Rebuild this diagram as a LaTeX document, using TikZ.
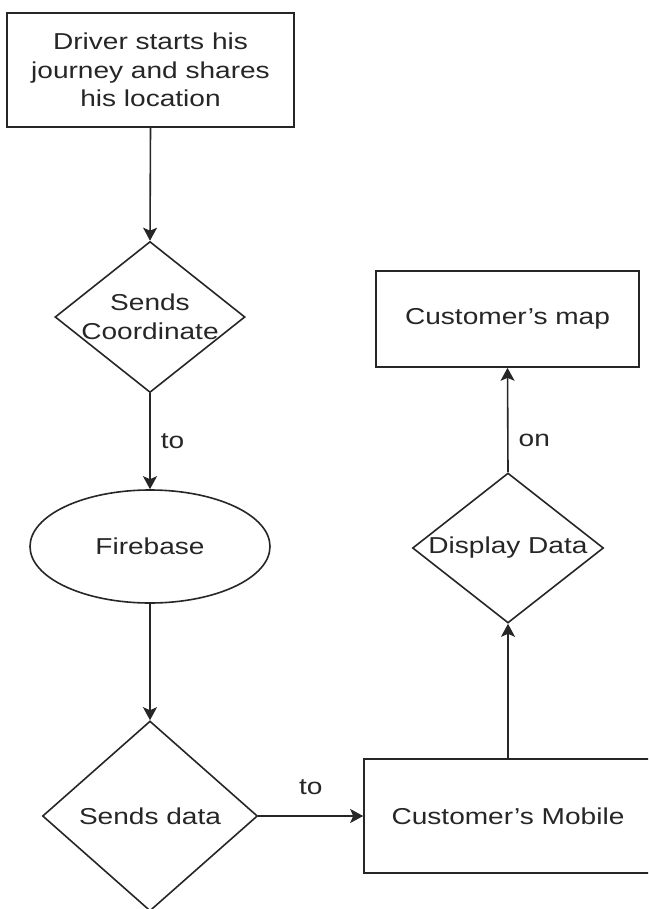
\documentclass[tikz,border=0pt]{standalone}
\usepackage{fontspec}
\setmainfont{Liberation Sans}[FakeStretch=1.22]
\usetikzlibrary{shapes.geometric,arrows.meta}
\begin{document}
\begin{tikzpicture}[x=1pt,y=-1pt,
  every node/.style={font=\fontsize{23}{28.5}\selectfont, text=black!85},
  boxnode/.style={draw=black!85, line width=1.6pt, rectangle, inner sep=0pt, align=center},
  dianode/.style={draw=black!85, line width=1.6pt, diamond, inner sep=0pt, aspect=1},
  ellnode/.style={draw=black!85, line width=1.6pt, ellipse, inner sep=0pt},
  txtnode/.style={align=center, inner sep=0pt},
  conn/.style={draw=black!85, line width=1.6pt, -{Stealth[length=13pt,width=14pt,inset=3pt]}},
  lbl/.style={inner sep=0pt}
]
\useasboundingbox (0,0) rectangle (648,909);
\begin{scope}
\clip (0,0) rectangle (648,909);
\node[boxnode, minimum width=287, minimum height=114] (b1) at (150.5,70) {Driver starts his\\journey and shares\\his location};
\node[dianode, minimum width=190, minimum height=151] (d1) at (150,317) {};
\node[txtnode] (d1t) at (d1) {Sends\\Coordinate};
\node[ellnode, minimum width=240, minimum height=113] (fb) at (150,546.5) {Firebase};
\node[dianode, minimum width=215, minimum height=190] (d2) at (150,816) {};
\node[txtnode] (d2t) at (d2) {Sends data};
\node[boxnode, minimum width=288, minimum height=114] (mob) at (508,816) {Customer's Mobile};
\node[dianode, minimum width=191, minimum height=150] (d3) at (508,548) {};
\node[txtnode] (d3t) at (d3) {Display Data};
\node[boxnode, minimum width=263, minimum height=96] (map) at (507.5,319) {Customer's map};

\draw[conn] (b1.south) -- (d1.north);
\draw[conn] (d1.south) -- (fb.north) node[lbl, midway, right=10pt] (l1) {to};
\draw[conn] (fb.south) -- (d2.north);
\draw[conn] (d2.east) -- (mob.west) node[lbl, midway, above=20pt] (l2) {to};
\draw[conn] (mob.north) -- (d3.south);
\draw[conn] (d3.north) -- (map.south) node[lbl, pos=0.3, right=10pt] (l3) {on};
\end{scope}
\end{tikzpicture}
\end{document}
